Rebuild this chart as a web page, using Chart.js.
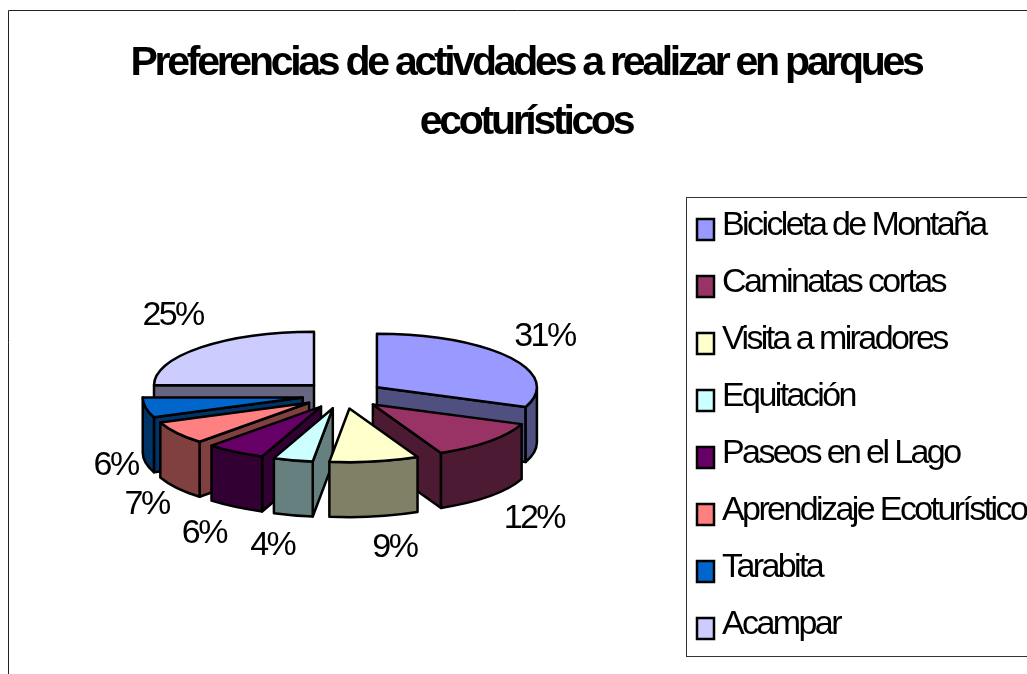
<!DOCTYPE html>
<html><head><meta charset="utf-8">
<style>html,body{margin:0;padding:0;background:#fff;overflow:hidden}canvas{display:block}</style>
<script src="https://cdn.jsdelivr.net/npm/chart.js@4"></script>
</head><body><canvas id="c" width="1027" height="674"></canvas>
<script>
const titleLines = ["Preferencias de activdades a realizar en parques", "ecoturísticos"];
const categories = ["Bicicleta de Montaña","Caminatas cortas","Visita a miradores","Equitación","Paseos en el Lago","Aprendizaje Ecoturístico","Tarabita","Acampar"];
const values = [31,12,9,4,6,7,6,25];
const topColors = ["#9999FF","#993366","#FFFFCC","#CCFFFF","#660066","#FF8080","#0066CC","#CCCCFF"];
const wallColors = ["#4F4F80","#4D1A33","#808066","#668080","#330033","#804040","#003366","#666680"];
const labelNudges = [[36,-21],[45,78],[20,86],[-21,86],[-32,82],[-31,72],[-31,58],[-29,-32]];

const SQUASH = 0.335, EXPLODE = 41, DEPTH = 55, SPACING = '-2.6px', TITLE_SPACING = '-3.27px';
const FONT = "'Liberation Sans', Arial, sans-serif";

function drawSlice(ctx, arc, i) {
  const {x, y, startAngle: a0, endAngle: a1, outerRadius: r} = arc;
  const mid = (a0 + a1) / 2;
  const ox = x + Math.cos(mid) * EXPLODE, oy = y + Math.sin(mid) * EXPLODE * SQUASH;
  const ry = r * SQUASH;
  ctx.save();
  ctx.lineWidth = 2.5; ctx.strokeStyle = '#000'; ctx.lineJoin = 'round';
  ctx.fillStyle = wallColors[i];
  const radial = (a) => {
    const ex = ox + Math.cos(a) * r, ey = oy + Math.sin(a) * ry;
    ctx.beginPath(); ctx.moveTo(ox, oy); ctx.lineTo(ex, ey);
    ctx.lineTo(ex, ey + DEPTH); ctx.lineTo(ox, oy + DEPTH); ctx.closePath();
    ctx.fill(); ctx.stroke();
  };
  if (-Math.cos(a0) > 0) radial(a0);
  if (Math.cos(a1) > 0) radial(a1);
  const w0 = Math.max(a0, 0), w1 = Math.min(a1, Math.PI);
  if (w1 > w0) {
    ctx.beginPath();
    ctx.ellipse(ox, oy, r, ry, 0, w0, w1);
    ctx.ellipse(ox, oy + DEPTH, r, ry, 0, w1, w0, true);
    ctx.closePath(); ctx.fill(); ctx.stroke();
  }
  ctx.save();
  ctx.translate(ox, oy); ctx.scale(1, SQUASH); ctx.translate(-x, -y);
  arc.draw(ctx);
  ctx.restore();
  ctx.beginPath(); ctx.moveTo(ox, oy);
  ctx.ellipse(ox, oy, r, ry, 0, a0, a1);
  ctx.closePath(); ctx.stroke();
  ctx.restore();
}

const pie3d = {
  id: 'pie3d',
  beforeUpdate(chart) { chart.ctx.letterSpacing = SPACING; },
  afterLayout(chart) {
    chart.chartArea = {left:183, right:503, top:235, bottom:555, width:320, height:320};
    const t = chart.titleBlock;
    t.left = 0; t.right = 1052; t.top = 34; t.bottom = 160; t.width = 1052; t.height = 126;
    if (!t._wrapped) {
      const orig = t.draw.bind(t);
      t.draw = (...a) => { const c = chart.ctx; const s = c.letterSpacing; c.letterSpacing = TITLE_SPACING; orig(...a); c.letterSpacing = s; };
      t._wrapped = true;
    }
    const l = chart.legend;
    l.left = 673; l.right = 1040; l.top = 186; l.bottom = 700; l.width = 367; l.height = 514;
  },
  beforeDraw(chart) {
    const c = chart.ctx;
    c.letterSpacing = SPACING;
    c.save();
    c.fillStyle = '#fff'; c.fillRect(0,0,chart.width,chart.height);
    c.strokeStyle = '#222'; c.lineWidth = 1;
    c.beginPath(); c.moveTo(8.5,674); c.lineTo(8.5,10.5); c.lineTo(1027,10.5); c.stroke();
    c.strokeStyle = '#333';
    c.strokeRect(686.5,197.5,400,459);
    c.restore();
  },
  beforeDatasetDraw(chart, args) {
    const ctx = chart.ctx;
    const arcs = args.meta.data;
    const order = arcs.map((a,i)=>i).sort((p,q)=>
      Math.sin((arcs[p].startAngle+arcs[p].endAngle)/2) - Math.sin((arcs[q].startAngle+arcs[q].endAngle)/2));
    order.forEach(i => drawSlice(ctx, arcs[i], i));
    ctx.save();
    ctx.fillStyle = '#000'; ctx.font = `34px ${FONT}`; ctx.textAlign='center'; ctx.textBaseline='middle';
    arcs.forEach((arc,i) => {
      const mid = (arc.startAngle+arc.endAngle)/2, R = 200;
      ctx.fillText(values[i] + '%',
        arc.x + Math.cos(mid)*R + labelNudges[i][0],
        arc.y + Math.sin(mid)*R*SQUASH + labelNudges[i][1]);
    });
    ctx.restore();
    return false;
  },
  afterDraw(chart) {
    const c = chart.ctx, l = chart.legend, o = l.options.labels;
    c.save();
    c.lineWidth = 2.5; c.strokeStyle = '#000';
    categories.forEach((_,i) => {
      const y = l.top + o.padding + i*(o.font.size + o.padding) + 10;
      c.fillStyle = topColors[i];
      c.fillRect(697, y, 17, 21);
      c.strokeRect(697, y, 17, 21);
    });
    c.restore();
  }
};

new Chart(document.getElementById('c'), {
  type: 'pie',
  data: { labels: categories, datasets: [{ data: values, backgroundColor: topColors, borderWidth: 0, clip: false }] },
  options: {
    responsive: false, animation: false, radius: 160,
    events: [],
    plugins: {
      tooltip: {enabled:false},
      title: { display:true, text:titleLines, color:'#000', padding:0,
        font:{family:FONT, size:41, weight:'bold', lineHeight:59/41} },
      legend: { display:true, position:'right', align:'start',
        labels:{ color:'#000', boxWidth:9, boxHeight:1, padding:23, font:{family:FONT, size:34},
          generateLabels:()=>categories.map((t,i)=>({text:t, fillStyle:'rgba(0,0,0,0)', strokeStyle:'rgba(0,0,0,0)', lineWidth:0, index:i})) } }
    }
  },
  plugins:[pie3d]
});
</script></body></html>
